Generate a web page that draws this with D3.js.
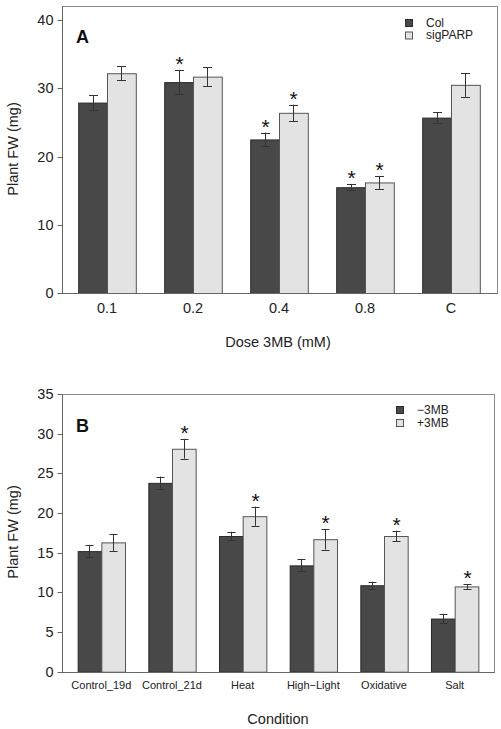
<!DOCTYPE html>
<html>
<head>
<meta charset="utf-8">
<script src="https://cdn.jsdelivr.net/npm/d3@7"></script>
<style>
  html, body { margin: 0; padding: 0; background: #fff; }
  svg { display: block; font-family: "Liberation Sans", Arial, sans-serif; }
</style>
</head>
<body>
<svg id="chart" width="501" height="729"></svg>
<script>
// ---- Panel A data ----
const doseCategories = ["0.1", "0.2", "0.4", "0.8", "C"];
const seriesA = ["Col", "sigPARP"];
const colValues = [27.9, 30.9, 22.5, 15.5, 25.7];
const colErrors = [1.1, 1.8, 1.0, 0.4, 0.75];
const sigparpValues = [32.2, 31.7, 26.4, 16.2, 30.5];
const sigparpErrors = [1.0, 1.4, 1.2, 0.95, 1.75];
const colStars = [false, true, true, true, false];
const sigparpStars = [false, false, true, true, false];
const yTicksA = [0, 10, 20, 30, 40];

// ---- Panel B data ----
const conditionCategories = ["Control_19d", "Control_21d", "Heat", "High\u2212Light", "Oxidative", "Salt"];
const seriesB = ["\u22123MB", "+3MB"];
const minusValues = [15.2, 23.8, 17.1, 13.4, 10.9, 6.7];
const minusErrors = [0.8, 0.8, 0.55, 0.75, 0.45, 0.6];
const plusValues = [16.3, 28.1, 19.6, 16.7, 17.1, 10.75];
const plusErrors = [1.07, 1.24, 1.2, 1.3, 0.67, 0.3];
const minusStars = [false, false, false, false, false, false];
const plusStars = [false, true, true, true, true, true];
const yTicksB = [0, 5, 10, 15, 20, 25, 30, 35];

const DARK = "#484848", LIGHT = "#e3e3e3";
const svg = d3.select("#chart");

function panel(cfg) {
  const g = svg.append("g");
  const x = d3.scaleBand().domain(cfg.categories).range(cfg.xRange)
    .paddingInner(0.33).paddingOuter(0.165);
  const x1 = d3.scaleBand().domain([0, 1]).range([0, x.bandwidth()]);
  const y = d3.scaleLinear().domain(cfg.yDomain).range(cfg.yRange);

  // frame (top/right)
  g.append("rect").attr("x", cfg.box[0] + 0.5).attr("y", cfg.box[1] + 0.5)
    .attr("width", cfg.box[2] - cfg.box[0]).attr("height", Math.round(y(0)) - cfg.box[1])
    .attr("fill", "none").attr("stroke", "#8a8a8a").attr("stroke-width", 1);

  const series = [
    { vals: cfg.s0, errs: cfg.e0, stars: cfg.st0, fill: DARK, stroke: "#2a2a2a" },
    { vals: cfg.s1, errs: cfg.e1, stars: cfg.st1, fill: LIGHT, stroke: "#555" }
  ];
  series.forEach((s, si) => {
    const data = cfg.categories.map((c, i) => ({ c, v: s.vals[i], e: s.errs[i], star: s.stars[i] }));
    g.selectAll(null).data(data).join("rect")
      .attr("x", d => x(d.c) + x1(si) + 0.5)
      .attr("y", d => y(d.v) + 0.5)
      .attr("width", x1.bandwidth())
      .attr("height", d => y(0) - y(d.v))
      .attr("fill", s.fill).attr("stroke", s.stroke).attr("stroke-width", 1);
  });
  series.forEach((s, si) => {
    const data = cfg.categories.map((c, i) => ({ c, v: s.vals[i], e: s.errs[i], star: s.stars[i] }));
    const cx = d => Math.round(x(d.c) + x1(si) + x1.bandwidth() / 2) + 0.5;
    const eg = g.append("g").attr("stroke", "#333").attr("stroke-width", 1);
    eg.selectAll(null).data(data).join("line")
      .attr("x1", cx).attr("x2", cx)
      .attr("y1", d => y(d.v + d.e)).attr("y2", d => y(d.v - d.e));
    [1, -1].forEach(sign => {
      eg.selectAll(null).data(data).join("line")
        .attr("x1", d => cx(d) - cfg.cap).attr("x2", d => cx(d) + cfg.cap)
        .attr("y1", d => Math.round(y(d.v + sign * d.e)) + 0.5)
        .attr("y2", d => Math.round(y(d.v + sign * d.e)) + 0.5);
    });
    g.selectAll(null).data(data.filter(d => d.star)).join("text")
      .attr("x", cx).attr("y", d => y(d.v + d.e) + 1)
      .attr("text-anchor", "middle").attr("font-size", 21).attr("fill", "#111")
      .text("*");
  });

  // axes
  const yAxis = d3.axisLeft(y).tickValues(cfg.yTicks).tickSize(5).tickPadding(4);
  const ya = g.append("g").attr("transform", `translate(${cfg.box[0] + 0.5},0)`).call(yAxis);
  ya.select(".domain").attr("stroke", "#666").attr("d", `M0,${cfg.box[1] + 0.5}V${Math.round(y(0)) + 0.5}`);
  ya.selectAll(".tick line").attr("stroke", "#666");
  ya.selectAll("text").attr("font-size", 14.5).attr("fill", "#222")
    .attr("font-family", "Liberation Sans, Arial, sans-serif");
  ya.selectAll(".tick").attr("transform", d => `translate(0,${Math.round(y(d)) + 0.5})`);

  const xAxis = d3.axisBottom(x).tickSize(0).tickPadding(cfg.xTickPad);
  const xa = g.append("g").attr("transform", `translate(0,${Math.round(y(0)) + 0.5})`).call(xAxis);
  xa.select(".domain").attr("stroke", "#666").attr("d", `M${cfg.box[0] + 0.5},0H${cfg.box[2] + 0.5}`);
  xa.selectAll("text").attr("font-size", cfg.xTickSize).attr("fill", "#222")
    .attr("font-family", "Liberation Sans, Arial, sans-serif");

  // titles
  g.append("text").attr("transform", `translate(18,${cfg.yTitleCenter}) rotate(-90)`)
    .attr("text-anchor", "middle").attr("font-size", 14.5).attr("fill", "#222")
    .text("Plant FW (mg)");
  g.append("text").attr("x", cfg.xTitle[0]).attr("y", cfg.xTitle[1])
    .attr("text-anchor", "middle").attr("font-size", 14.5).attr("fill", "#222")
    .text(cfg.xTitleText);
  g.append("text").attr("x", 76).attr("y", cfg.letterY)
    .attr("font-size", 18).attr("font-weight", "bold").attr("fill", "#111")
    .text(cfg.letter);

  // legend
  const lg = g.append("g");
  cfg.seriesNames.forEach((n, i) => {
    const yy = cfg.legendY + i * cfg.legendStep;
    lg.append("rect").attr("x", cfg.legendX + 0.5).attr("y", yy + 0.5)
      .attr("width", 7).attr("height", 7)
      .attr("fill", i === 0 ? DARK : LIGHT).attr("stroke", i === 0 ? "#2a2a2a" : "#555");
    lg.append("text").attr("x", cfg.legendX + 21).attr("y", yy + 7.5)
      .attr("font-size", 12).attr("fill", "#222").text(n);
  });
}

panel({
  categories: doseCategories, seriesNames: seriesA,
  s0: colValues, e0: colErrors, st0: colStars,
  s1: sigparpValues, e1: sigparpErrors, st1: sigparpStars,
  yTicks: yTicksA, yDomain: [0, 40], yRange: [293, 20],
  box: [62, 6, 497], xRange: [64, 494], cap: 4.5,
  xTickPad: 9, xTickSize: 14.5,
  yTitleCenter: 149, xTitle: [278, 347], xTitleText: "Dose 3MB (mM)",
  letter: "A", letterY: 43,
  legendX: 405, legendY: 19, legendStep: 12.5
});

panel({
  categories: conditionCategories, seriesNames: seriesB,
  s0: minusValues, e0: minusErrors, st0: minusStars,
  s1: plusValues, e1: plusErrors, st1: plusStars,
  yTicks: yTicksB, yDomain: [0, 35], yRange: [671.7, 394],
  box: [62, 394, 494], xRange: [66, 490], cap: 4,
  xTickPad: 9, xTickSize: 11,
  yTitleCenter: 532, xTitle: [278, 724], xTitleText: "Condition",
  letter: "B", letterY: 431.5,
  legendX: 396, legendY: 406, legendStep: 13
});
</script>
</body>
</html>
